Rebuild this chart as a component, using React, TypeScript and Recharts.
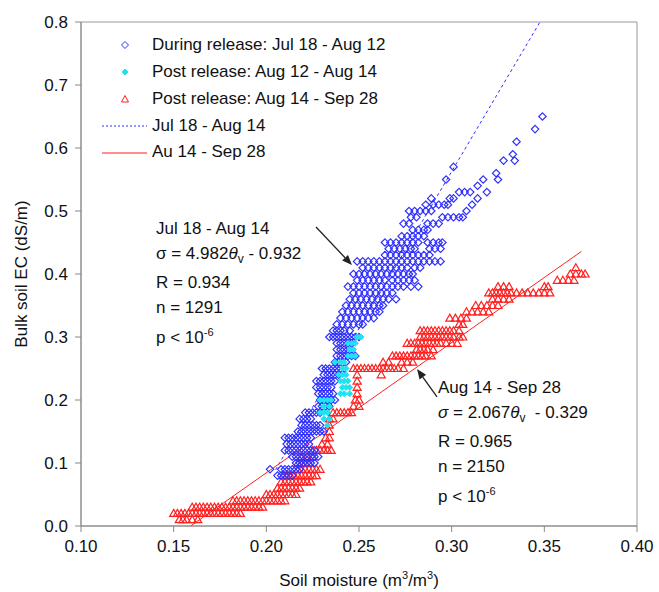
import React from "react";
import { ScatterChart, Scatter, XAxis, YAxis, ReferenceLine, ReferenceArea } from "recharts";

// rows of points: [bulk EC (dS/m), soil moisture values ×1000]
const duringRows: [number, number[]][] = [
  [0.65, [349]],
  [0.63, [345]],
  [0.61, [335]],
  [0.59, [333]],
  [0.58, [328, 334]],
  [0.57, [301]],
  [0.56, [324]],
  [0.55, [297, 317, 325]],
  [0.54, [314]],
  [0.53, [304, 307, 310, 319]],
  [0.52, [289, 299, 301, 314]],
  [0.51, [286, 290, 293, 296, 298, 311]],
  [0.5, [277, 280, 283, 286, 289, 308]],
  [0.49, [278, 281, 295, 298, 301, 304, 306]],
  [0.48, [274, 277, 287, 290, 293]],
  [0.47, [279, 282, 285, 287]],
  [0.46, [273, 276, 279, 282, 285]],
  [0.45, [264, 267, 270, 273, 276, 279, 282, 287, 290, 293, 295]],
  [0.44, [266, 269, 272, 275, 278, 280, 288, 291, 294]],
  [0.43, [264, 267, 270, 273, 276, 279, 282, 285, 288]],
  [0.42, [249, 252, 255, 258, 261, 264, 267, 270, 273, 276, 279, 282, 285, 288, 291, 294]],
  [0.41, [252, 255, 258, 261, 264, 267, 270, 273, 276, 280, 283]],
  [0.4, [247, 250, 253, 256, 259, 262, 265, 268, 271, 274, 277, 279]],
  [0.39, [249, 252, 255, 258, 261, 264, 268, 271, 274, 277, 280]],
  [0.38, [244, 247, 250, 253, 256, 259, 262, 265, 268, 271, 274, 278, 282]],
  [0.37, [247, 250, 253, 256, 259, 262, 265, 268]],
  [0.36, [245, 248, 251, 254, 257, 260, 263, 266, 270]],
  [0.35, [243, 246, 249, 252, 255, 258, 261, 263]],
  [0.34, [241, 244, 247, 250, 253, 256, 259, 261]],
  [0.33, [240, 243, 246, 249, 252, 255, 258]],
  [0.32, [238, 241, 244, 247, 250, 252]],
  [0.31, [236, 238, 240, 242, 245]],
  [0.3, [234, 236, 238, 240, 242, 244, 246, 248, 250]],
  [0.29, [238, 240, 242, 244, 246]],
  [0.28, [238, 240, 242, 244, 246]],
  [0.27, [238, 240, 242, 244, 246, 248]],
  [0.26, [237, 239, 241, 243]],
  [0.25, [230, 232, 234, 236, 238, 240, 242]],
  [0.24, [231, 233, 235, 237, 239]],
  [0.23, [227, 229, 231, 233, 235, 237]],
  [0.22, [227, 229, 231, 233, 235]],
  [0.21, [228, 230, 232, 234, 236]],
  [0.2, [229, 231, 233, 235, 237]],
  [0.19, [228, 230, 232, 234]],
  [0.18, [221, 223, 225, 227, 229]],
  [0.17, [218, 220, 222, 224]],
  [0.16, [219, 221, 223, 225, 227, 229]],
  [0.15, [217, 219, 221, 223, 225, 227, 229, 231]],
  [0.14, [210, 212, 214, 216, 218, 220, 222, 224]],
  [0.13, [211, 213, 215, 217, 219, 221, 223]],
  [0.12, [210, 212, 214, 216, 218, 220, 222, 224, 226]],
  [0.11, [214, 216, 218, 220, 222, 224, 226, 228]],
  [0.1, [216, 218, 220, 222, 224, 226]],
  [0.09, [202, 208, 210, 212, 214, 216, 218]],
  [0.08, [206, 208, 210, 212, 214]],
];

const postAug12Rows: [number, number[]][] = [
  [0.3, [249, 251]],
  [0.29, [244, 246, 248]],
  [0.28, [245, 247]],
  [0.27, [244, 246, 248]],
  [0.26, [237, 240, 242]],
  [0.25, [241, 243]],
  [0.24, [239, 241, 243]],
  [0.23, [240, 242, 244]],
  [0.22, [241, 243, 245]],
  [0.21, [240, 242, 245]],
  [0.2, [229, 231, 233, 235]],
  [0.19, [231, 234]],
  [0.18, [229, 231, 233]],
  [0.17, [231, 234]],
  [0.16, [233]],
];

const postAug14Rows: [number, number[]][] = [
  [0.01, [153, 155, 157, 160, 163]],
  [0.02, [150, 152, 154, 156, 158, 160, 162, 164, 166, 168, 170, 172, 174, 176, 178, 180, 182, 184, 186]],
  [0.03, [160, 162, 164, 166, 168, 170, 172, 174, 176, 178, 180, 182, 184, 186, 188, 190, 192, 194, 196, 198]],
  [0.04, [182, 184, 186, 188, 190, 192, 194, 196, 198, 200, 202, 204, 206, 208, 210]],
  [0.05, [200, 202, 204, 206, 208, 210, 212, 214, 216]],
  [0.06, [206, 208, 210, 212, 214, 216, 218]],
  [0.07, [208, 210, 212, 214, 216, 218, 220, 222, 224]],
  [0.08, [209, 211, 213, 215, 217, 219, 221, 223, 225, 227]],
  [0.09, [217, 219, 221, 223, 225, 227, 229]],
  [0.1, [217, 219, 221, 223]],
  [0.11, [219, 222, 225]],
  [0.12, [225, 227, 229, 231, 233, 235]],
  [0.13, [230, 233]],
  [0.14, [232, 234]],
  [0.15, [234]],
  [0.16, [234]],
  [0.17, [234, 236]],
  [0.18, [236, 238, 240, 242, 244, 246]],
  [0.19, [247, 250]],
  [0.2, [248, 250]],
  [0.21, [249]],
  [0.22, [249]],
  [0.23, [249]],
  [0.24, [249, 262]],
  [0.25, [247, 249, 251, 253, 255, 257, 259, 261, 263, 265, 267, 269, 271, 274]],
  [0.26, [263, 266, 273, 276, 279]],
  [0.27, [268, 270, 272, 274, 276, 278, 280, 282, 284, 286, 289]],
  [0.28, [281, 283, 285, 287, 290]],
  [0.29, [276, 278, 280, 282, 284, 286, 288, 290, 292, 294, 297, 300, 303]],
  [0.3, [283, 285, 287, 289, 291, 293, 295, 297, 299, 301, 304, 306]],
  [0.31, [283, 285, 287, 289, 291, 293, 295, 297, 299, 301, 304]],
  [0.32, [304, 306]],
  [0.33, [299, 302, 305, 308]],
  [0.34, [308, 311, 314, 317, 320]],
  [0.35, [313, 316, 319, 322, 325]],
  [0.36, [322, 325, 328, 331]],
  [0.37, [320, 322, 324, 326, 328, 330, 332, 335, 338, 341, 344, 347, 350, 353]],
  [0.38, [325, 328, 331, 350, 352]],
  [0.39, [357, 360, 363, 366]],
  [0.4, [364, 367, 370, 372]],
  [0.41, [367]],
];

const xTicks = [0.1, 0.15, 0.2, 0.25, 0.3, 0.35, 0.4];
const yTicks = [0, 0.1, 0.2, 0.3, 0.4, 0.5, 0.6, 0.7, 0.8];

// regressions: slope, intercept, drawn θv range
const julFit = [4.982, -0.932];
const julRange = [0.205, 0.3477];
const augFit = [2.067, -0.329];
const augRange = [0.1592, 0.37];

// annotation arrows [from, to] in data units
const julArrow = [[0.2268, 0.4746], [0.2462, 0.4143]];
const augArrow = [[0.2921, 0.2048], [0.2813, 0.2492]];

const BLUE = "#2f2fff";
const CYAN = "#1fe3f2";
const RED = "#ff2020";
const FONT = "'Liberation Sans', Arial, sans-serif";

const toPoints = (rows: [number, number[]][]) =>
  rows.flatMap(([y, xs]) => xs.map((x) => ({ x: x / 1000, y })));

const during = toPoints(duringRows);
const postAug12 = toPoints(postAug12Rows);
const postAug14 = toPoints(postAug14Rows);

const fitSegment = (fit: number[], range: number[]) =>
  range.map((x) => ({ x, y: fit[0] * x + fit[1] }));

const OpenDiamond = (p: any) => {
  const { cx, cy } = p;
  const r = 3.7;
  return <path d={`M${cx},${cy - r}L${cx + r},${cy}L${cx},${cy + r}L${cx - r},${cy}Z`} fill="none" stroke={BLUE} strokeWidth={1.2} />;
};

const FilledDiamond = (p: any) => {
  const { cx, cy } = p;
  const r = 3;
  return <path d={`M${cx},${cy - r}L${cx + r},${cy}L${cx},${cy + r}L${cx - r},${cy}Z`} fill={CYAN} stroke={CYAN} strokeWidth={1} />;
};

const OpenTriangle = (p: any) => {
  const { cx, cy } = p;
  return <path d={`M${cx},${cy - 4}L${cx + 4},${cy + 3}L${cx - 4},${cy + 3}Z`} fill="none" stroke={RED} strokeWidth={1.2} />;
};

const Arrow = (p: any) => {
  const { x1, y1, x2, y2 } = p;
  const a = Math.atan2(y2 - y1, x2 - x1);
  const L = 10, W = 4;
  const bx = x2 - L * Math.cos(a), by = y2 - L * Math.sin(a);
  const px = -Math.sin(a) * W, py = Math.cos(a) * W;
  return (
    <g>
      <line x1={x1} y1={y1} x2={bx} y2={by} stroke="#222" strokeWidth={1.3} />
      <path d={`M${x2},${y2}L${bx + px},${by + py}L${bx - px},${by - py}Z`} fill="#222" />
    </g>
  );
};

const textStyle: React.CSSProperties = { fontFamily: FONT, fontSize: 17, color: "#111", lineHeight: "24.5px", whiteSpace: "nowrap" };

function LegendBox() {
  const rows: [React.ReactNode, string][] = [
    [<path d="M0,-3.5L3.5,0L0,3.5L-3.5,0Z" fill="none" stroke={BLUE} />, "During release: Jul 18 - Aug 12"],
    [<path d="M0,-3L3,0L0,3L-3,0Z" fill={CYAN} stroke={CYAN} />, "Post release: Aug 12 - Aug 14"],
    [<path d="M0,-3.5L3.5,3L-3.5,3Z" fill="none" stroke={RED} />, "Post release: Aug 14 - Sep 28"],
    [<line x1={-23} x2={22} y1={0} y2={0} stroke={BLUE} strokeDasharray="2 2" />, "Jul 18 - Aug 14"],
    [<line x1={-23} x2={22} y1={0} y2={0} stroke={RED} />, "Au 14 - Sep 28"],
  ];
  return (
    <div style={{ position: "absolute", left: 100, top: 32 }}>
      {rows.map(([icon, label], i) => (
        <div key={i} style={{ display: "flex", alignItems: "center", height: 26.8 }}>
          <svg width={50} height={14} style={{ overflow: "visible" }}>
            <g transform="translate(25,7)">{icon}</g>
          </svg>
          <span style={{ ...textStyle, marginLeft: 2 }}>{label}</span>
        </div>
      ))}
    </div>
  );
}

export default function App() {
  return (
    <div style={{ position: "absolute", left: 0, top: 0, width: 659, height: 592, background: "#fff" }}>
      <ScatterChart width={659} height={592} margin={{ top: 22, right: 22, bottom: 36, left: 0 }}>
        <XAxis
          type="number"
          dataKey="x"
          domain={[0.1, 0.4]}
          ticks={xTicks}
          tickFormatter={(v: number) => v.toFixed(2)}
          stroke="#888"
          tickSize={6}
          tickMargin={8}
          tick={{ fill: "#111", fontSize: 17, fontFamily: FONT }}
          allowDataOverflow
        />
        <YAxis
          type="number"
          dataKey="y"
          domain={[0, 0.8]}
          ticks={yTicks}
          width={81}
          tickFormatter={(v: number) => v.toFixed(1)}
          stroke="#888"
          tickSize={6}
          tickMargin={7}
          tick={{ fill: "#111", fontSize: 17, fontFamily: FONT }}
          allowDataOverflow
        />
        <ReferenceArea x1={0.1} x2={0.4} y1={0} y2={0.8} fill="none" stroke="#999" strokeWidth={1} />
        <Scatter data={postAug14} shape={OpenTriangle} isAnimationActive={false} />
        <Scatter data={during} shape={OpenDiamond} isAnimationActive={false} />
        <Scatter data={postAug12} shape={FilledDiamond} isAnimationActive={false} />
        <ReferenceLine segment={fitSegment(julFit, julRange)} stroke={BLUE} strokeDasharray="3 3" strokeWidth={1} ifOverflow="visible" />
        <ReferenceLine segment={fitSegment(augFit, augRange)} stroke={RED} strokeWidth={1} ifOverflow="visible" />
        <ReferenceLine segment={julArrow.map(([x, y]) => ({ x, y }))} shape={Arrow} ifOverflow="visible" />
        <ReferenceLine segment={augArrow.map(([x, y]) => ({ x, y }))} shape={Arrow} ifOverflow="visible" />
      </ScatterChart>

      <LegendBox />

      <div style={{ ...textStyle, position: "absolute", left: 156, top: 217 }}>
        <div>Jul 18 - Aug 14</div>
        <div>σ = 4.982<i>θ</i><sub style={{ fontSize: 12 }}>v</sub> - 0.932</div>
        <div>R = 0.934</div>
        <div>n = 1291</div>
        <div>p &lt; 10<sup style={{ fontSize: 11 }}>-6</sup></div>
      </div>

      <div style={{ ...textStyle, position: "absolute", left: 438, top: 376 }}>
        <div>Aug 14 - Sep 28</div>
        <div><i>σ</i> = 2.067<i>θ</i><sub style={{ fontSize: 12 }}>v</sub>&nbsp; - 0.329</div>
        <div>R = 0.965</div>
        <div>n = 2150</div>
        <div>p &lt; 10<sup style={{ fontSize: 11 }}>-6</sup></div>
      </div>

      <div style={{ ...textStyle, position: "absolute", left: 359, top: 563, transform: "translateX(-50%)" }}>
        Soil moisture (m<sup style={{ fontSize: 11 }}>3</sup>/m<sup style={{ fontSize: 11 }}>3</sup>)
      </div>
      <div style={{ ...textStyle, position: "absolute", left: 22, top: 274, transform: "translate(-50%,-50%) rotate(-90deg)" }}>
        Bulk soil EC (dS/m)
      </div>
    </div>
  );
}
